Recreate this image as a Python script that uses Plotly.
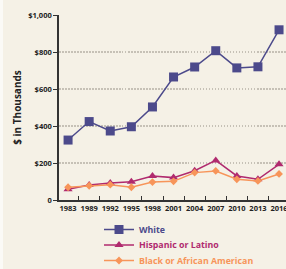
import plotly.graph_objects as go

years = ["1983", "1989", "1992", "1995", "1998", "2001", "2004", "2007", "2010", "2013", "2016"]
white = [324, 424, 373, 396, 503, 665, 719, 807, 714, 720, 920]
hispanic = [58, 81, 92, 99, 130, 121, 158, 214, 130, 112, 193]
black = [69, 77, 83, 69, 97, 101, 148, 157, 112, 103, 141]
y_ticks = [0, 200, 400, 600, 800, 1000]
y_tick_text = ["0", "$200", "$400", "$600", "$800", "$1,000"]

C_WHITE = "#4c4a8b"
C_HISP = "#b02a6e"
C_BLACK = "#f7955a"
BG = "#f5f1e6"
FONT = "Open Sans"

fig = go.Figure()
fig.add_trace(go.Scatter(
    x=years, y=white, mode="lines+markers",
    name="<b><span style='color:%s'>White</span></b>" % C_WHITE,
    line=dict(color=C_WHITE, width=1.5),
    marker=dict(symbol="square", size=9, color=C_WHITE),
    cliponaxis=False, legend="legend",
))
fig.add_trace(go.Scatter(
    x=years, y=hispanic, mode="lines+markers",
    name="<b><span style='color:%s'>Hispanic or Latino</span></b>" % C_HISP,
    line=dict(color=C_HISP, width=1.5),
    marker=dict(symbol="triangle-up", size=8, color=C_HISP),
    cliponaxis=False, legend="legend2",
))
fig.add_trace(go.Scatter(
    x=years, y=black, mode="lines+markers",
    name="<b><span style='color:%s'>Black or African American</span></b>" % C_BLACK,
    line=dict(color=C_BLACK, width=1.5),
    marker=dict(symbol="diamond", size=6, color=C_BLACK),
    cliponaxis=False, legend="legend3",
))

PLOT_W = 286 - 59
PLOT_H = 269 - 15 - 69


def legend_at(cy):
    return dict(
        x=(99 - 59) / PLOT_W, xanchor="left",
        y=(269 - 69 - cy) / PLOT_H, yanchor="middle",
        bgcolor="rgba(0,0,0,0)",
        font=dict(family=FONT, size=8.8),
        itemwidth=30,
    )


fig.update_layout(
    width=286, height=269,
    margin=dict(l=59, r=0, t=15, b=69, autoexpand=False),
    paper_bgcolor=BG, plot_bgcolor=BG,
    font=dict(family=FONT, size=8, color="#333333"),
    showlegend=True,
    legend=legend_at(229.5),
    legend2=legend_at(245),
    legend3=legend_at(260.5),
    xaxis=dict(
        type="category", range=[-0.43, 10.33],
        showline=True, linecolor="#333333", linewidth=1.5,
        ticks="inside", tickson="boundaries", ticklen=4, tickcolor="#333333",
        tickangle=0,
        tickfont=dict(family=FONT, size=7.5, color="#222222", weight="bold"),
        showgrid=False, zeroline=False,
    ),
    yaxis=dict(
        range=[0, 1000], tickvals=y_ticks, ticktext=y_tick_text,
        showline=True, linecolor="#333333", linewidth=1.5,
        ticks="outside", ticklen=4, tickcolor="#333333",
        tickfont=dict(family=FONT, size=7.5, color="#222222", weight="bold"),
        showgrid=True, gridcolor="#c6c1b6", griddash="1.5px,1.5px", gridwidth=1.5,
        zeroline=False,
        title=dict(text="<b>$ in Thousands</b>", font=dict(family=FONT, size=10, color="#222222"), standoff=5),
    ),
)
fig.add_shape(type="rect", xref="paper", yref="paper",
              x0=-59 / PLOT_W, x1=-56 / PLOT_W, y0=-69 / PLOT_H, y1=(269 - 69) / PLOT_H + 0.2,
              fillcolor="#fbfaf6", line=dict(width=0), layer="below")

fig.write_html("out.html", config={"displayModeBar": False},
               post_script="document.body.style.margin='0';document.body.style.overflow='hidden';")
